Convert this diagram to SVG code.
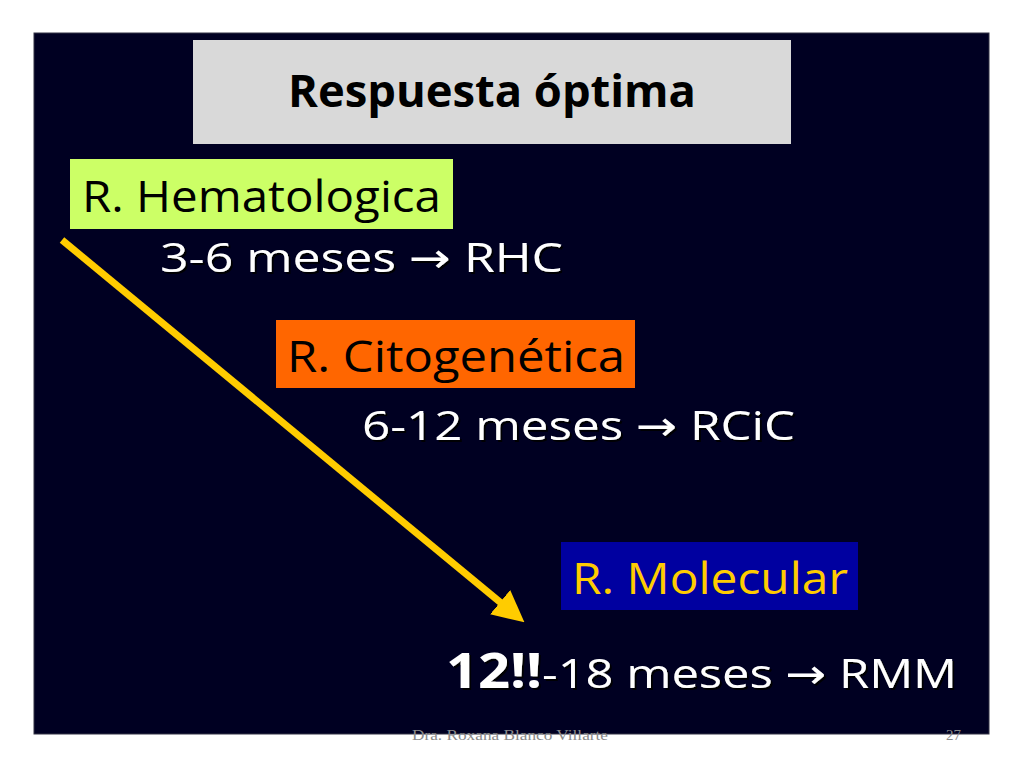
<svg xmlns="http://www.w3.org/2000/svg" width="1024" height="768" viewBox="0 0 1024 768">
<defs>
<style>
.t{font-family:"Open Sans","DejaVu Sans",sans-serif;}
.w{fill:#ffffff;}
.k{fill:#000000;}
.foot{font-family:"Liberation Serif",serif;font-size:15px;fill:#8a8a8a;}
</style>
<marker id="ah" markerWidth="4.5" markerHeight="4.5" refX="2.2" refY="2.25" orient="auto" markerUnits="strokeWidth">
<path d="M0,0 L4.5,2.25 L0,4.5 z" fill="#ffcc00"/>
</marker>
<filter id="sh" x="-5%" y="-5%" width="110%" height="120%">
<feDropShadow dx="2" dy="2" stdDeviation="0.5" flood-color="#000000" flood-opacity="0.9"/>
</filter>
</defs>
<rect x="0" y="0" width="1024" height="768" fill="#ffffff"/>
<rect x="34" y="33" width="955" height="701" fill="#000022" stroke="#333344" stroke-width="1"/>
<g id="title">
<rect x="193" y="40" width="598" height="104" fill="#d9d9d9"/>
<text class="t k" x="492" y="107" font-size="44" font-weight="bold" text-anchor="middle" textLength="408" lengthAdjust="spacingAndGlyphs">Respuesta óptima</text>
</g>
<g id="connectors">
<line x1="62" y1="240" x2="512" y2="612" stroke="#ffcc00" stroke-width="7" marker-end="url(#ah)"/>
</g>
<g id="hematologica">
<rect x="70" y="159" width="383" height="70" fill="#ccff66"/>
<text class="t k" x="82" y="212" font-size="43" textLength="359" lengthAdjust="spacingAndGlyphs">R. Hematologica</text>
</g>
<g id="rhc">
<text class="t w" x="160" y="272" font-size="41" filter="url(#sh)" textLength="403" lengthAdjust="spacingAndGlyphs">3-6 meses → RHC</text>
</g>
<g id="citogenetica">
<rect x="276" y="320" width="359" height="68" fill="#ff6600"/>
<text class="t k" x="287" y="372" font-size="43" textLength="338" lengthAdjust="spacingAndGlyphs">R. Citogenética</text>
</g>
<g id="rcic">
<text class="t w" x="362" y="440" font-size="41" filter="url(#sh)" textLength="433" lengthAdjust="spacingAndGlyphs">6-12 meses → RCiC</text>
</g>
<g id="molecular">
<rect x="561" y="542" width="297" height="68" fill="#0000a0"/>
<text class="t" x="572" y="594" font-size="43" fill="#ffcc00" textLength="276" lengthAdjust="spacingAndGlyphs">R. Molecular</text>
</g>
<g id="rmm">
<text class="t w" x="446" y="688" font-size="49" font-weight="bold" filter="url(#sh)" textLength="96" lengthAdjust="spacingAndGlyphs">12!!</text>
<text class="t w" x="542" y="688" font-size="41" filter="url(#sh)" textLength="415" lengthAdjust="spacingAndGlyphs">-18 meses → RMM</text>
</g>
<g id="footer">
<text class="foot" x="412" y="740" textLength="196" lengthAdjust="spacingAndGlyphs">Dra. Roxana Blanco Villarte</text>
<text class="foot" x="946" y="740">27</text>
</g>
</svg>
